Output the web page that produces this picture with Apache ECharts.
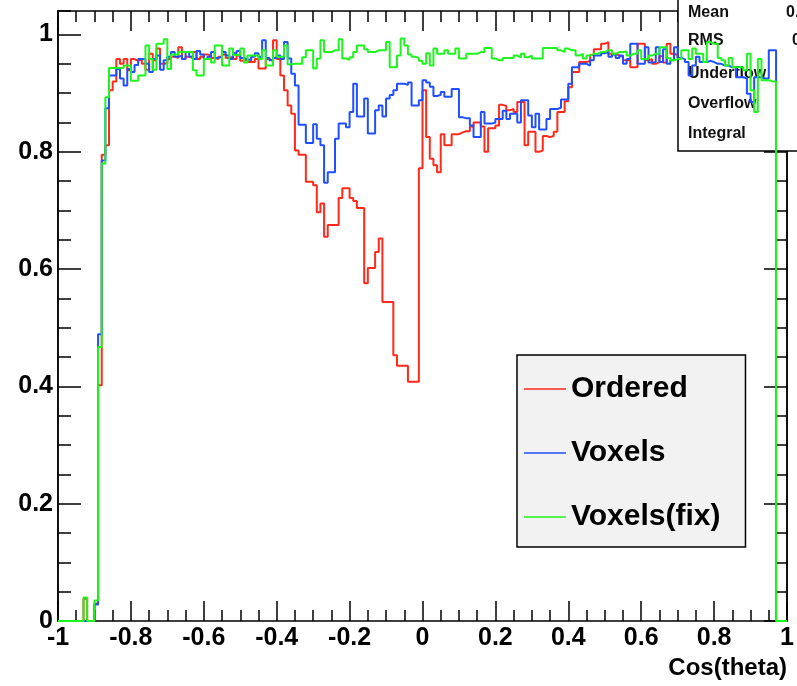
<!DOCTYPE html>
<html>
<head>
<meta charset="utf-8">
<title>Cos(theta)</title>
<script src="https://cdn.jsdelivr.net/npm/echarts@6/dist/echarts.min.js"></script>
<style>
  html, body { margin: 0; padding: 0; background: #fff; }
  #chart { width: 797px; height: 686px; }
</style>
</head>
<body>
<div id="chart"></div>
<script>
const FONT = '"Liberation Sans", Arial, Helvetica, sans-serif';

// histogram range, 200 bins of 0.01
const xRange = [-1, 1];
const yTop = 1.04;

const seriesNames = ['Ordered', 'Voxels', 'Voxels(fix)'];
const seriesColors = ['#ff2a1a', '#1f4fff', '#1ef51e'];

// bin contents, one value per bin, left to right
const ordered = [
  0, 0, 0, 0, 0, 0, 0, 0.038, 0, 0,
  0.030, 0.402, 0.795, 0.811, 0.905, 0.920, 0.958, 0.950, 0.958, 0.939,
  0.958, 0.955, 0.958, 0.950, 0.940, 0.967, 0.956, 0.976, 0.950, 0.951,
  0.958, 0.962, 0.960, 0.978, 0.958, 0.962, 0.960, 0.970, 0.958, 0.962,
  0.966, 0.964, 0.960, 0.958, 0.962, 0.966, 0.960, 0.962, 0.958, 0.964,
  0.955, 0.958, 0.953, 0.953, 0.958, 0.942, 0.942, 0.958, 0.955, 0.990,
  0.958, 0.930, 0.905, 0.879, 0.865, 0.802, 0.795, 0.795, 0.749, 0.749,
  0.743, 0.697, 0.712, 0.655, 0.675, 0.675, 0.675, 0.721, 0.738, 0.738,
  0.721, 0.716, 0.704, 0.704, 0.576, 0.602, 0.602, 0.629, 0.652, 0.544,
  0.544, 0.544, 0.453, 0.435, 0.435, 0.435, 0.408, 0.408, 0.408, 0.772,
  0.905, 0.825, 0.788, 0.777, 0.765, 0.830, 0.811, 0.811, 0.830, 0.830,
  0.833, 0.835, 0.835, 0.843, 0.850, 0.850, 0.843, 0.800, 0.840, 0.840,
  0.845, 0.880, 0.878, 0.871, 0.873, 0.868, 0.885, 0.885, 0.811, 0.834,
  0.834, 0.800, 0.802, 0.827, 0.825, 0.827, 0.834, 0.868, 0.868, 0.886,
  0.910, 0.936, 0.936, 0.953, 0.953, 0.955, 0.965, 0.975, 0.975, 0.984,
  0.987, 0.967, 0.967, 0.964, 0.962, 0.956, 0.956, 0.944, 0.944, 0.984,
  0.984, 0.956, 0.958, 0.950, 0.953, 0.963, 0.952, 0.984, 0.967, 0.965,
  0.960, 0.955, 0.950, 0.952, 0.958, 0.955, 0.950, 0.953, 0.956, 0.950,
  0.948, 0.945, 0.950, 0.946, 0.940, 0.942, 0.935, 0.930, 0.928, 0.915,
  0.900, 0.920, 0.930, 0.925, 0.928, 0.950, 0.955, 0, 0, 0
];

const voxels = [
  0, 0, 0, 0, 0, 0, 0, 0, 0, 0,
  0.028, 0.489, 0.785, 0.874, 0.930, 0.930, 0.941, 0.925, 0.913, 0.941,
  0.936, 0.948, 0.958, 0.958, 0.950, 0.936, 0.958, 0.964, 0.940, 0.956,
  0.962, 0.970, 0.962, 0.964, 0.958, 0.970, 0.962, 0.958, 0.972, 0.966,
  0.958, 0.962, 0.970, 0.960, 0.962, 0.970, 0.964, 0.958, 0.968, 0.972,
  0.960, 0.958, 0.956, 0.962, 0.968, 0.962, 0.990, 0.960, 0.956, 0.960,
  0.964, 0.958, 0.987, 0.959, 0.933, 0.913, 0.846, 0.846, 0.815, 0.815,
  0.847, 0.822, 0.811, 0.747, 0.765, 0.765, 0.822, 0.848, 0.848, 0.842,
  0.868, 0.916, 0.860, 0.860, 0.891, 0.831, 0.831, 0.871, 0.879, 0.860,
  0.891, 0.897, 0.905, 0.916, 0.916, 0.914, 0.918, 0.879, 0.879, 0.888,
  0.922, 0.918, 0.911, 0.895, 0.897, 0.902, 0.894, 0.894, 0.907, 0.907,
  0.859, 0.857, 0.857, 0.845, 0.825, 0.825, 0.868, 0.848, 0.848, 0.850,
  0.856, 0.856, 0.870, 0.856, 0.865, 0.865, 0.850, 0.888, 0.888, 0.862,
  0.842, 0.865, 0.838, 0.838, 0.856, 0.873, 0.873, 0.875, 0.889, 0.889,
  0.916, 0.944, 0.944, 0.950, 0.950, 0.947, 0.956, 0.964, 0.964, 0.968,
  0.970, 0.962, 0.966, 0.960, 0.964, 0.950, 0.958, 0.984, 0.984, 0.950,
  0.950, 0.978, 0.952, 0.953, 0.978, 0.953, 0.975, 0.950, 0.956, 0.978,
  0.960, 0.958, 0.953, 0.930, 0.947, 0.962, 0.953, 0.953, 0.955, 0.953,
  0.950, 0.950, 0.947, 0.947, 0.944, 0.944, 0.927, 0.927, 0.925, 0.899,
  0.885, 0.927, 0.927, 0.925, 0.925, 0.973, 0.973, 0, 0, 0
];

const voxelsFix = [
  0, 0, 0, 0, 0, 0, 0, 0.040, 0, 0,
  0.035, 0.467, 0.780, 0.893, 0.943, 0.943, 0.943, 0.943, 0.947, 0.947,
  0.921, 0.921, 0.930, 0.930, 0.981, 0.958, 0.940, 0.984, 0.984, 0.992,
  0.941, 0.966, 0.966, 0.970, 0.970, 0.970, 0.970, 0.939, 0.930, 0.930,
  0.958, 0.958, 0.952, 0.981, 0.981, 0.947, 0.947, 0.976, 0.965, 0.965,
  0.976, 0.952, 0.964, 0.964, 0.964, 0.958, 0.973, 0.947, 0.947, 0.973,
  0.962, 0.962, 0.981, 0.949, 0.950, 0.950, 0.950, 0.961, 0.973, 0.973,
  0.942, 0.959, 0.990, 0.970, 0.970, 0.973, 0.973, 0.992, 0.959, 0.957,
  0.961, 0.970, 0.981, 0.981, 0.975, 0.970, 0.970, 0.973, 0.973, 0.973,
  0.987, 0.944, 0.944, 0.964, 0.993, 0.981, 0.966, 0.962, 0.960, 0.955,
  0.950, 0.968, 0.947, 0.976, 0.967, 0.967, 0.973, 0.967, 0.967, 0.976,
  0.959, 0.959, 0.967, 0.967, 0.967, 0.970, 0.970, 0.977, 0.977, 0.959,
  0.956, 0.956, 0.960, 0.960, 0.960, 0.964, 0.961, 0.967, 0.961, 0.964,
  0.959, 0.959, 0.959, 0.977, 0.977, 0.977, 0.977, 0.973, 0.970, 0.976,
  0.973, 0.973, 0.964, 0.967, 0.959, 0.964, 0.967, 0.967, 0.970, 0.970,
  0.973, 0.973, 0.967, 0.970, 0.970, 0.971, 0.964, 0.967, 0.967, 0.973,
  0.958, 0.958, 0.964, 0.967, 0.967, 0.978, 0.978, 0.960, 0.956, 0.958,
  0.958, 0.973, 0.973, 0.958, 0.976, 0.967, 0.967, 0.953, 0.987, 0.984,
  0.984, 0.960, 0.956, 0.947, 0.960, 0.944, 0.944, 0.944, 0.939, 0.967,
  0.905, 0.868, 0.958, 0.922, 0.922, 0.920, 0.920, 0, 0, 0
];

// stats box rows (values are cut off at the right edge of the picture)
const statsLabels = ['Mean', 'RMS', 'Underflow', 'Overflow', 'Integral'];
const statsValues = ['0.2', '0.5', '', '', ''];

// step outline: one point per bin low edge, plus the last upper edge
function histPoints(vals) {
  const w = (xRange[1] - xRange[0]) / vals.length;
  const pts = vals.map((v, i) => [xRange[0] + i * w, v]);
  pts.push([xRange[1], vals[vals.length - 1]]);
  return pts;
}

const black = { color: '#000', width: 1.5 };

function xAx(pos, showLabel) {
  return {
    type: 'value', position: pos, min: xRange[0], max: xRange[1], interval: 0.2,
    axisLine: { show: true, onZero: false, lineStyle: black },
    axisTick: { show: true, inside: true, length: 20, lineStyle: black },
    minorTick: { show: true, splitNumber: 4, length: 11, lineStyle: black },
    splitLine: { show: false },
    axisLabel: {
      show: showLabel, margin: 5, color: '#000',
      fontSize: 25, fontWeight: 'bold', fontFamily: FONT
    }
  };
}

function yAx(pos, interval, len, showLabel) {
  return {
    type: 'value', position: pos, min: 0, max: yTop, interval: interval,
    axisLine: { show: true, onZero: false, lineStyle: black },
    axisTick: { show: true, inside: true, length: len, lineStyle: black },
    splitLine: { show: false },
    axisLabel: {
      show: showLabel, showMaxLabel: false, margin: 5, color: '#000',
      fontSize: 25, fontWeight: 'bold', fontFamily: FONT
    }
  };
}

const statsGraphics = [{
  type: 'rect', z: 2,
  shape: { x: 678, y: -2, width: 140, height: 153 },
  style: { fill: '#fff', stroke: '#000', lineWidth: 1.5 }
}];
const rowY = [13, 41, 74, 104, 134];
statsLabels.forEach((t, i) => {
  statsGraphics.push({
    type: 'text', z: 2, x: 688, y: rowY[i],
    style: { text: t, font: 'bold 16px ' + FONT, fill: '#111', verticalAlign: 'middle' }
  });
  if (statsValues[i]) {
    statsGraphics.push({
      type: 'text', z: 2, x: i === 0 ? 786 : 792, y: rowY[i],
      style: { text: statsValues[i], font: 'bold 16px ' + FONT, fill: '#111', verticalAlign: 'middle' }
    });
  }
});
statsGraphics.push({
  type: 'text', z: 5, x: 787, y: 668,
  style: { text: 'Cos(theta)', font: 'bold 24px ' + FONT, fill: '#000', align: 'right', verticalAlign: 'middle' }
});

const allData = [ordered, voxels, voxelsFix];
const zOrder = [1, 3, 4];

const chart = echarts.init(document.getElementById('chart'));
const option = {
  animation: false,
  backgroundColor: '#fff',
  grid: { left: 58, right: 10, top: 11, bottom: 65 },
  xAxis: [xAx('bottom', true), xAx('top', false)],
  yAxis: [
    yAx('left', 0.2, 23, true),
    yAx('left', 0.05, 13, false),
    yAx('right', 0.2, 23, false),
    yAx('right', 0.05, 12, false)
  ],
  legend: {
    data: seriesNames,
    orient: 'vertical',
    left: 517, top: 355,
    padding: [19, 25, 15, 7],
    icon: 'rect',
    itemGap: 34, itemWidth: 42, itemHeight: 1.5,
    backgroundColor: '#f2f2f2', borderColor: '#000', borderWidth: 1.5,
    selectedMode: false,
    textStyle: { fontSize: 30, fontWeight: 'bold', fontFamily: FONT, color: '#000' }
  },
  graphic: statsGraphics,
  series: seriesNames.map((name, i) => ({
    name: name,
    type: 'line',
    step: 'end',
    xAxisIndex: 0, yAxisIndex: 0,
    data: histPoints(allData[i]),
    symbol: 'none', showSymbol: false,
    z: zOrder[i],
    silent: true,
    lineStyle: { color: seriesColors[i], width: 2 },
    itemStyle: { color: seriesColors[i] }
  }))
};
chart.setOption(option);
</script>
</body>
</html>
